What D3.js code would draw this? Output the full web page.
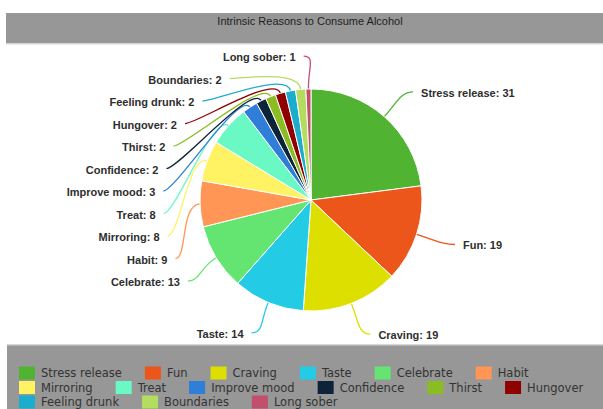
<!DOCTYPE html>
<html>
<head>
<meta charset="utf-8">
<script src="https://cdn.jsdelivr.net/npm/d3@7"></script>
<style>
  html, body { margin: 0; padding: 0; background: #fff; }
  svg { display: block; }
</style>
</head>
<body>
<svg id="chart" width="603" height="409"></svg>
<script>
// ---- data ----
const chartTitle = "Intrinsic Reasons to Consume Alcohol";
const categories = ["Stress release", "Fun", "Craving", "Taste", "Celebrate", "Habit",
  "Mirroring", "Treat", "Improve mood", "Confidence", "Thirst", "Hungover",
  "Feeling drunk", "Boundaries", "Long sober"];
const values = [31, 19, 19, 14, 13, 9, 8, 8, 3, 2, 2, 2, 2, 2, 1];
const sliceColors = ["#50b432", "#ed561b", "#dddf00", "#24cbe5", "#64e572", "#ff9655",
  "#fff263", "#6af9c4", "#2f7ed8", "#0d233a", "#8bbc21", "#910000",
  "#1aadce", "#b2dd5e", "#c24f6c"];

const data = categories.map((c, i) => ({ name: c, value: values[i], color: sliceColors[i] }));

// ---- layout ----
const W = 603, H = 409;
const cx = 311, cy = 200, radius = 111;
const labelR = 144;          // radius of the label anchor circle
const labelStep = 22.5;      // minimum vertical spacing between stacked labels
const gapRight = 15, gapLeft = 12;

const svg = d3.select("#chart");

// title band
svg.append("rect").attr("x", 6).attr("y", 13).attr("width", W - 6).attr("height", 30).attr("fill", "#979797");
svg.append("rect").attr("x", 6).attr("y", 43).attr("width", W - 6).attr("height", 1.5).attr("fill", "#d6d6d6");
svg.append("text")
  .attr("x", 310).attr("y", 21)
  .attr("text-anchor", "middle").attr("dominant-baseline", "central")
  .style("font-family", "'Liberation Sans', Arial, sans-serif")
  .style("font-size", "11px").style("fill", "#1e1e1e")
  .text(chartTitle);

// ---- pie ----
const pie = d3.pie().sort(null).value(d => d.value).startAngle(0).endAngle(2 * Math.PI);
const arcGen = d3.arc().innerRadius(0).outerRadius(radius);
const arcs = pie(data);

const g = svg.append("g").attr("transform", `translate(${cx},${cy})`);

// labels: anchor on a circle, stacked per side to avoid overlap
const labels = arcs.map(d => {
  const a = (d.startAngle + d.endAngle) / 2;
  const side = Math.sin(a) >= 0 ? 1 : -1;
  return { d, a, side, y0: -labelR * Math.cos(a) };
});
[1, -1].forEach(s => {
  const group = labels.filter(l => l.side === s).sort((p, q) => p.y0 - q.y0);
  let prev = -Infinity;
  group.forEach(l => { l.y = Math.max(l.y0, prev + labelStep); prev = l.y; });
});
labels.forEach(l => {
  l.x = l.side * Math.sqrt(Math.max(0, labelR * labelR - l.y * l.y));
  const gap = l.side > 0 ? gapRight : gapLeft;
  l.tx = l.x + l.side * gap;
  l.ex = l.tx - l.side * 8;
});

// leader lines
g.selectAll("path.leader").data(labels).join("path")
  .attr("class", "leader")
  .attr("fill", "none")
  .attr("stroke", l => l.d.data.color)
  .attr("stroke-width", 1.3)
  .attr("d", l => {
    const ux = Math.sin(l.a), uy = -Math.cos(l.a);
    const sx = ux * radius, sy = uy * radius;
    const c1x = ux * (radius + 20), c1y = uy * (radius + 20);
    const c2x = l.ex - l.side * 12, c2y = l.y;
    return `M${sx},${sy}C${c1x},${c1y} ${c2x},${c2y} ${l.ex},${l.y}`;
  });

// slices
g.selectAll("path.slice").data(arcs).join("path")
  .attr("class", "slice")
  .attr("d", arcGen)
  .attr("fill", d => d.data.color)
  .attr("stroke", "#ffffff")
  .attr("stroke-width", 1);

// label text
g.selectAll("text.lbl").data(labels).join("text")
  .attr("class", "lbl")
  .attr("x", l => l.tx)
  .attr("y", l => l.y + 1)
  .attr("text-anchor", l => l.side > 0 ? "start" : "end")
  .attr("dominant-baseline", "central")
  .style("font-family", "'Liberation Sans', Arial, sans-serif")
  .style("font-size", "11px").style("font-weight", "bold")
  .style("fill", "#2e2e2e")
  .text(l => `${l.d.data.name}: ${l.d.data.value}`);

// ---- legend ----
const legendTop = 345;
svg.append("rect").attr("x", 7).attr("y", legendTop).attr("width", W - 7).attr("height", H - legendTop).attr("fill", "#979797");
svg.append("rect").attr("x", 7).attr("y", legendTop - 1).attr("width", W - 7).attr("height", 1.5).attr("fill", "#d6d6d6");

const legend = svg.append("g");
const sw = 16, sh = 13, textOff = 22, itemGap = 23, rowPitch = 14.5;
const rowStart = 19, rowLimit = W;
let lx = rowStart, row = 0;
data.forEach(d => {
  const item = legend.append("g");
  const t = item.append("text")
    .attr("dominant-baseline", "central")
    .style("font-family", "'DejaVu Sans', Verdana, sans-serif")
    .style("font-size", "11.5px").style("fill", "#333")
    .text(d.name);
  const tw = t.node().getComputedTextLength();
  const w = textOff + tw;
  if (lx + w > rowLimit && lx > rowStart) { row += 1; lx = rowStart; }
  const yc = 373 + row * rowPitch;
  item.append("rect").attr("x", lx).attr("y", yc - sh / 2).attr("width", sw).attr("height", sh).attr("fill", d.color);
  t.attr("x", lx + textOff).attr("y", yc);
  lx += w + itemGap;
});
</script>
</body>
</html>
